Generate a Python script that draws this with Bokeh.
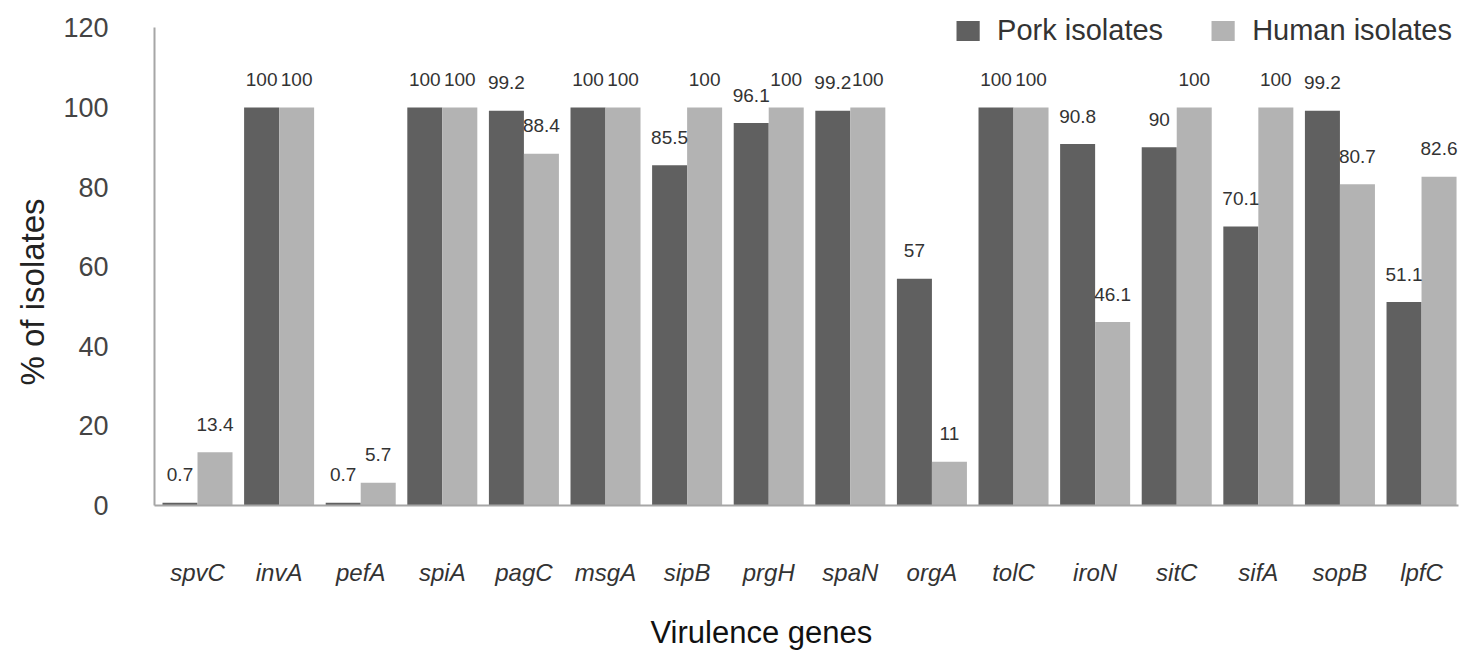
from bokeh.plotting import figure
from bokeh.models import ColumnDataSource, Range1d, FixedTicker, Title
from bokeh.transform import dodge
from bokeh.embed import file_html
from bokeh.resources import INLINE

genes = ["spvC", "invA", "pefA", "spiA", "pagC", "msgA", "sipB", "prgH",
         "spaN", "orgA", "tolC", "iroN", "sitC", "sifA", "sopB", "lpfC"]
pork = [0.7, 100, 0.7, 100, 99.2, 100, 85.5, 96.1, 99.2, 57, 100, 90.8, 90, 70.1, 99.2, 51.1]
human = [13.4, 100, 5.7, 100, 88.4, 100, 100, 100, 100, 11, 100, 46.1, 100, 100, 80.7, 82.6]
y_ticks = [0, 20, 40, 60, 80, 100, 120]

FONT = "Liberation Sans"
PORK_C = "#606060"
HUMAN_C = "#b3b3b3"
AXIS_C = "#a6a6a6"

src = ColumnDataSource(dict(
    idx=list(range(len(genes))),
    gene=genes,
    pork=pork,
    human=human,
    pork_lbl=[f"{v:g}" for v in pork],
    human_lbl=[f"{v:g}" for v in human],
))

p = figure(width=1460, height=655,
           x_range=Range1d(-0.527, 15.453), y_range=Range1d(0, 124.87),
           output_backend="svg", toolbar_location=None,
           min_border_left=154, min_border_right=2,
           min_border_top=8, min_border_bottom=150)

bw = 0.429
p.vbar(x=dodge("idx", -bw / 2, range=p.x_range), top="pork", width=bw,
       source=src, fill_color=PORK_C, line_color=None, legend_label="Pork isolates")
p.vbar(x=dodge("idx", bw / 2, range=p.x_range), top="human", width=bw,
       source=src, fill_color=HUMAN_C, line_color=None, legend_label="Human isolates")

p.text(x=dodge("idx", -bw / 2, range=p.x_range), y="pork", text="pork_lbl", source=src,
       text_align="center", text_baseline="middle", y_offset=-28,
       text_font_size="19px", text_color="#333333", text_font={"value": FONT})
p.text(x=dodge("idx", bw / 2, range=p.x_range), y="human", text="human_lbl", source=src,
       text_align="center", text_baseline="middle", y_offset=-28,
       text_font_size="19px", text_color="#333333", text_font={"value": FONT})

p.xgrid.visible = False
p.ygrid.visible = False
p.outline_line_color = None

xa = p.xaxis[0]
xa.ticker = FixedTicker(ticks=list(range(len(genes))))
xa.major_label_overrides = {i: g for i, g in enumerate(genes)}
xa.major_label_text_font = FONT
xa.major_label_text_font_style = "italic"
xa.major_label_text_font_size = "24px"
xa.major_label_text_color = "#333333"
xa.major_label_standoff = 47
xa.major_tick_line_color = None
xa.minor_tick_line_color = None
xa.axis_line_color = AXIS_C
xa.axis_line_width = 2

ya = p.yaxis[0]
ya.ticker = FixedTicker(ticks=y_ticks)
ya.bounds = (0, 120)
ya.major_label_text_font = FONT
ya.major_label_text_font_size = "27px"
ya.major_label_text_color = "#444444"
ya.major_label_standoff = 40
ya.major_tick_line_color = None
ya.minor_tick_line_color = None
ya.axis_line_color = AXIS_C
ya.axis_line_width = 2

# axis titles
p.add_layout(Title(text="Virulence genes", align="left", offset=496,
                   text_font=FONT, text_font_size="31px", text_font_style="normal",
                   text_color="#111111", standoff=0, padding=(0, 0, 24, 0)), "below")
p.add_layout(Title(text="% of isolates", align="left", offset=120,
                   text_font=FONT, text_font_size="33px", text_font_style="normal",
                   text_color="#222222", standoff=20), "left")

lg = p.legend[0]
lg.orientation = "horizontal"
lg.location = "top_right"
lg.border_line_color = None
lg.background_fill_alpha = 0
lg.label_text_font = FONT
lg.label_text_font_size = "29px"
lg.label_text_color = "#333333"
lg.glyph_width = 29
lg.glyph_height = 25
lg.label_standoff = 15
lg.spacing = 45
lg.margin = 6
lg.padding = 0

open("out.html", "w").write(file_html(p, INLINE))
